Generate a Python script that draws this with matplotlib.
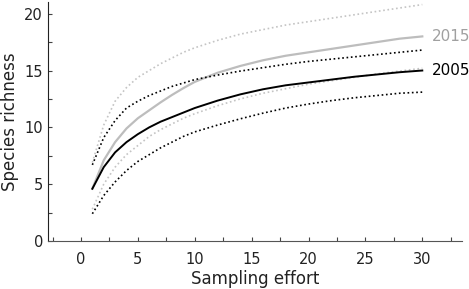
import matplotlib
matplotlib.use("Agg")
import matplotlib.pyplot as plt
from matplotlib.ticker import MultipleLocator

effort = [1, 2, 3, 4, 5, 6, 7, 8, 9, 10, 12, 14, 16, 18, 20, 22, 24, 26, 28, 30]

rich_2005 = [4.6, 6.5, 7.8, 8.7, 9.4, 10.0, 10.5, 10.9, 11.3, 11.7, 12.35, 12.9, 13.35, 13.7, 13.95, 14.2, 14.45, 14.65, 14.85, 15.0]
upper_2005 = [6.7, 9.1, 10.6, 11.7, 12.3, 12.8, 13.2, 13.6, 13.9, 14.2, 14.6, 14.95, 15.25, 15.55, 15.8, 16.0, 16.2, 16.4, 16.6, 16.8]
lower_2005 = [2.4, 4.0, 5.2, 6.2, 7.0, 7.6, 8.2, 8.7, 9.2, 9.6, 10.2, 10.75, 11.25, 11.7, 12.05, 12.35, 12.6, 12.8, 13.0, 13.1]

rich_2015 = [4.6, 7.1, 8.7, 9.9, 10.8, 11.5, 12.2, 12.85, 13.45, 14.0, 14.8, 15.4, 15.9, 16.3, 16.6, 16.9, 17.2, 17.5, 17.8, 18.0]
upper_2015 = [6.9, 10.2, 12.3, 13.5, 14.4, 15.0, 15.6, 16.1, 16.6, 17.0, 17.65, 18.2, 18.6, 19.0, 19.3, 19.6, 19.9, 20.2, 20.5, 20.8]
lower_2015 = [2.8, 5.0, 6.5, 7.6, 8.4, 9.2, 9.8, 10.3, 10.8, 11.2, 11.9, 12.5, 13.0, 13.4, 13.8, 14.1, 14.4, 14.7, 14.95, 15.2]

labels = ["2005", "2015"]

fig = plt.figure(figsize=(4.69, 2.89), dpi=100)
ax = fig.add_axes([0.1023, 0.166, 0.883, 0.826])

gray_solid = "#bdbdbd"
gray_dot = "#c4c4c4"

ax.plot(effort, upper_2015, color=gray_dot, lw=1.2, linestyle=(0, (1, 1.6)))
ax.plot(effort, lower_2015, color=gray_dot, lw=1.2, linestyle=(0, (1, 1.6)))
ax.plot(effort, rich_2015, color=gray_solid, lw=1.6)
ax.plot(effort, upper_2005, color="black", lw=1.2, linestyle=(0, (1, 1.6)))
ax.plot(effort, lower_2005, color="black", lw=1.2, linestyle=(0, (1, 1.6)))
ax.plot(effort, rich_2005, color="black", lw=1.4)

ax.text(30.8, rich_2015[-1], labels[1], color="#a0a0a0", fontsize=11, va="center", ha="left")
ax.text(30.8, rich_2005[-1], labels[0], color="black", fontsize=11, va="center", ha="left")

ax.set_xlim(-2.9, 33.5)
ax.set_ylim(0, 21)
ax.xaxis.set_major_locator(MultipleLocator(5))
ax.xaxis.set_minor_locator(MultipleLocator(2.5))
ax.yaxis.set_major_locator(MultipleLocator(5))
ax.yaxis.set_minor_locator(MultipleLocator(2.5))
ax.tick_params(which="both", direction="in", length=3, width=0.8, colors="#444444",
               labelsize=10.5, labelcolor="#222222")
ax.tick_params(axis="x", pad=8)
for s in ["top", "right"]:
    ax.spines[s].set_visible(False)
ax.spines["left"].set_color("#222222")
ax.spines["bottom"].set_color("#555555")
ax.set_xlabel("Sampling effort", fontsize=12, color="#222222", labelpad=2)
ax.set_ylabel("Species richness", fontsize=12, color="#222222", labelpad=4)

fig.savefig("out.png", dpi=100)
